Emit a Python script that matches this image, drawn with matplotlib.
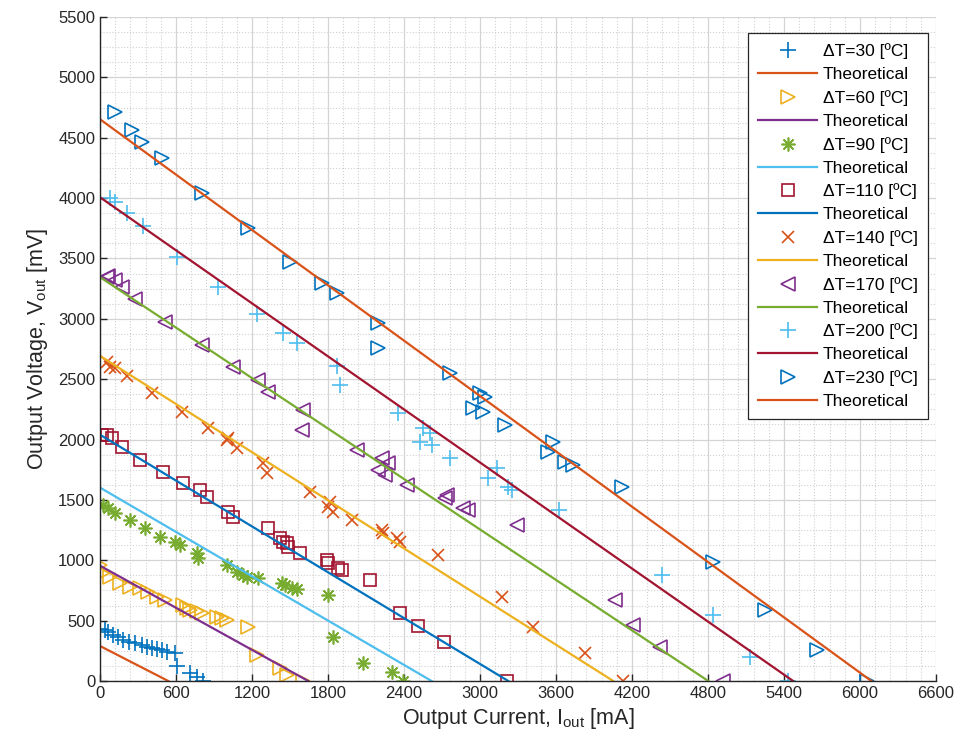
import numpy as np
import matplotlib
matplotlib.use("Agg")
import matplotlib.pyplot as plt
from matplotlib.ticker import MultipleLocator

plt.rcParams['font.family'] = ['Liberation Sans', 'DejaVu Sans']
plt.rcParams['mathtext.fontset'] = 'custom'
plt.rcParams['mathtext.rm'] = 'Liberation Sans'
plt.rcParams['mathtext.it'] = 'Liberation Sans:italic'

# measured points, current [mA] / voltage [mV]
i_30 = [0, 40, 65, 105, 145, 185, 225, 275, 330, 370, 410, 450, 490, 525, 590, 605, 710, 765, 815]
v_30 = [430, 420, 408, 382, 362, 340, 326, 317, 298, 284, 271, 262, 257, 243, 234, 124, 63, 36, 0]

i_60 = [0, 26, 79, 158, 237, 316, 382, 447, 513, 658, 684, 711, 763, 803, 921, 961, 1000, 1171, 1237, 1421, 1474, 1605]
v_60 = [961, 892, 864, 809, 781, 768, 740, 698, 671, 630, 602, 588, 582, 561, 533, 519, 505, 450, 215, 105, 50, 0]

i_90 = [26, 66, 118, 237, 355, 474, 592, 632, 763, 776, 1000, 1079, 1132, 1158, 1250, 1434, 1461, 1513, 1553, 1803, 1842, 2079, 2303, 2395]
v_90 = [1458, 1430, 1389, 1334, 1265, 1195, 1154, 1126, 1058, 1016, 961, 905, 878, 864, 851, 809, 795, 768, 760, 712, 367, 147, 77, 0]

i_110 = [13, 53, 92, 171, 316, 500, 658, 790, 842, 1013, 1047, 1329, 1421, 1447, 1474, 1487, 1579, 1790, 1803, 1882, 1908, 2132, 2368, 2513, 2716, 3216]
v_110 = [2040, 2038, 2010, 1941, 1830, 1734, 1637, 1582, 1527, 1402, 1356, 1265, 1182, 1154, 1140, 1112, 1058, 1002, 975, 933, 919, 837, 561, 455, 326, 0]

i_140 = [53, 79, 118, 211, 408, 645, 855, 1000, 1013, 1079, 1289, 1316, 1658, 1803, 1816, 1842, 1987, 2224, 2237, 2342, 2368, 2671, 3171, 3421, 3829, 4126]
v_140 = [2645, 2603, 2590, 2526, 2383, 2231, 2093, 1996, 2010, 1927, 1803, 1720, 1568, 1444, 1485, 1402, 1334, 1251, 1223, 1182, 1154, 1044, 698, 450, 229, 0]

i_170 = [53, 66, 118, 171, 276, 513, 803, 1053, 1250, 1329, 1605, 1592, 2026, 2224, 2276, 2197, 2250, 2421, 2737, 2724, 2868, 2908, 3290, 4066, 4211, 4421, 4921]
v_170 = [3349, 3355, 3321, 3266, 3162, 2976, 2783, 2603, 2493, 2396, 2245, 2080, 1913, 1845, 1803, 1748, 1706, 1624, 1541, 1513, 1430, 1416, 1292, 671, 464, 284, 0]

i_200 = [79, 118, 211, 342, 605, 934, 1237, 1447, 1553, 1868, 1895, 2355, 2553, 2605, 2526, 2618, 2763, 3132, 3066, 3224, 3250, 3626, 4434, 4842, 5132, 5434]
v_200 = [3998, 3970, 3874, 3769, 3514, 3266, 3040, 2880, 2797, 2609, 2452, 2217, 2093, 2052, 1982, 1955, 1845, 1762, 1679, 1610, 1582, 1416, 878, 547, 201, 0]

i_230 = [118, 250, 329, 487, 803, 1171, 1500, 1750, 1868, 2197, 2197, 2763, 3000, 3040, 2947, 3026, 3197, 3579, 3540, 3671, 3737, 4118, 4842, 5250, 5658, 6053]
v_230 = [4716, 4564, 4467, 4330, 4040, 3750, 3473, 3294, 3211, 2963, 2755, 2549, 2383, 2355, 2259, 2231, 2120, 1982, 1900, 1817, 1789, 1610, 988, 588, 257, 0]

delta_t = [30, 60, 90, 110, 140, 170, 200, 230]
# theoretical lines: open-circuit voltage [mV] and short-circuit current [mA]
theo_v0 = [290, 955, 1602, 2040, 2693, 3345, 4007, 4653]
theo_isc = [539, 1644, 2618, 3223, 4052, 4802, 5472, 6090]

meas_i = [i_30, i_60, i_90, i_110, i_140, i_170, i_200, i_230]
meas_v = [v_30, v_60, v_90, v_110, v_140, v_170, v_200, v_230]

cyc = ['#0072BD', '#D95319', '#EDB120', '#7E2F8E', '#77AC30', '#4DBEEE', '#A2142F']
markers = ['+', '>', (8, 2, 0), 's', 'x', '<', '+', '>']
msizes = [11, 10, 10, 8, 8, 10, 11, 10]

fig = plt.figure(figsize=(9.67, 7.53), dpi=100)
ax = fig.add_axes([100 / 967, 1 - 681 / 753, 836 / 967, 664 / 753])

k = 0
for n in range(len(delta_t)):
    c_pts = cyc[k % 7]
    c_line = cyc[(k + 1) % 7]
    k += 2
    ax.plot(meas_i[n], meas_v[n], linestyle='none', marker=markers[n],
            markersize=msizes[n], markerfacecolor='none', markeredgecolor=c_pts,
            markeredgewidth=1.2, label='\u0394T=%d [\u00baC]' % delta_t[n])
    ax.plot([0, theo_isc[n]], [theo_v0[n], 0], color=c_line, linewidth=1.6,
            label='Theoretical')

ax.set_xlim(0, 6600)
ax.set_ylim(0, 5500)
ax.xaxis.set_major_locator(MultipleLocator(600))
ax.yaxis.set_major_locator(MultipleLocator(500))
ax.xaxis.set_minor_locator(MultipleLocator(120))
ax.yaxis.set_minor_locator(MultipleLocator(125))
ax.grid(which='major', color='#d4d4d4', linewidth=0.9)
ax.grid(which='minor', color='#d0d0d0', linestyle=':', linewidth=0.8)
ax.set_axisbelow(True)
ax.tick_params(which='major', direction='in', length=5, width=1, colors='#262626',
               labelsize=12, top=False, right=False)
ax.tick_params(which='minor', length=0)
for s in ['top', 'right']:
    ax.spines[s].set_visible(False)
for s in ['left', 'bottom']:
    ax.spines[s].set_color('#262626')
    ax.spines[s].set_linewidth(1.0)

ax.set_xlabel('Output Current, I$_{\\mathrm{out}}$ [mA]', fontsize=15.5, color='#262626', labelpad=4)
ax.set_ylabel('Output Voltage, V$_{\\mathrm{out}}$ [mV]', fontsize=15.5, color='#262626', labelpad=6)

leg = ax.legend(loc='upper right', bbox_to_anchor=((928 - 100) / 836, (681 - 33) / 664),
                borderaxespad=0, fontsize=12.5, labelspacing=0.45, handlelength=3.4,
                handletextpad=0.3, fancybox=False, framealpha=1, edgecolor='#262626',
                borderpad=0.6)
leg.get_frame().set_linewidth(0.9)

fig.savefig('out.png', dpi=100)
